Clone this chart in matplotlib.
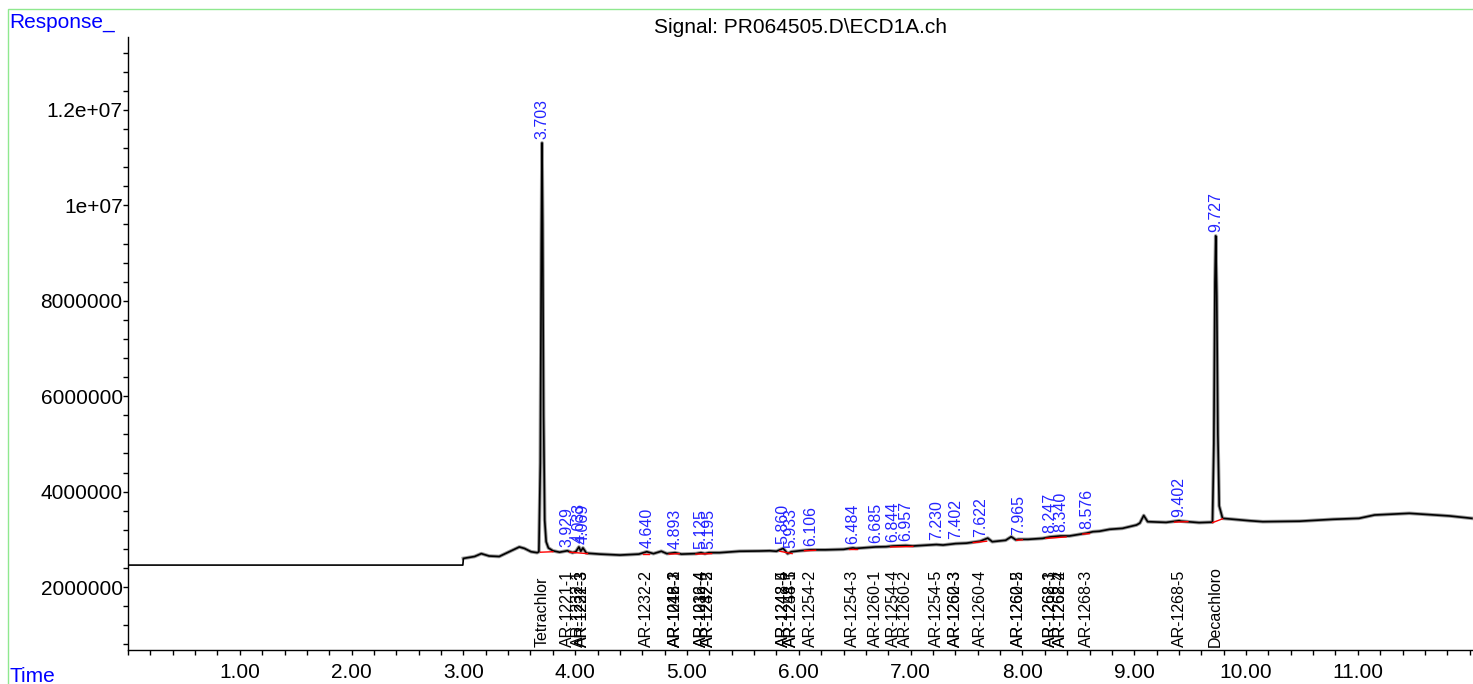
import numpy as np
import matplotlib
matplotlib.use("Agg")
import matplotlib.pyplot as plt
from matplotlib.ticker import FixedLocator, FixedFormatter, MultipleLocator
from matplotlib.patches import Rectangle

plt.rcParams['font.family'] = ['Liberation Sans', 'DejaVu Sans']

# ---- data ----
time_min = [0.0, 2.995, 3.0, 3.05, 3.10, 3.16, 3.23, 3.32, 3.41, 3.50, 3.545, 3.605, 3.66,
            3.675, 3.688, 3.697, 3.703, 3.709, 3.717, 3.727, 3.74, 3.76, 3.80, 3.86, 3.929,
            3.975, 4.005, 4.033, 4.05, 4.069, 4.10, 4.22, 4.40, 4.57, 4.64, 4.70, 4.77, 4.82,
            4.893, 4.95, 5.08, 5.125, 5.16, 5.195, 5.29, 5.47, 5.65, 5.74, 5.80, 5.86, 5.90,
            5.933, 6.01, 6.106, 6.24, 6.40, 6.484, 6.51, 6.685, 6.78, 6.844, 6.957, 7.02,
            7.230, 7.29, 7.402, 7.50, 7.622, 7.69, 7.73, 7.85, 7.90, 7.94, 7.965, 8.05, 8.18,
            8.247, 8.340, 8.42, 8.576, 8.63, 8.69, 8.78, 8.895, 9.02, 9.05, 9.085, 9.12,
            9.285, 9.402, 9.42, 9.58, 9.70, 9.712, 9.722, 9.729, 9.738, 9.748, 9.76, 9.79,
            10.03, 10.15, 10.48, 10.78, 11.01, 11.15, 11.46, 11.82, 12.02]
response = [2.46e6, 2.46e6, 2.60e6, 2.62e6, 2.64e6, 2.70e6, 2.65e6, 2.64e6, 2.74e6, 2.84e6,
            2.81e6, 2.74e6, 2.72e6, 2.74e6, 4.6e6, 9.2e6, 11.31e6, 9.6e6, 5.6e6, 3.4e6,
            2.95e6, 2.82e6, 2.76e6, 2.73e6, 2.76e6, 2.72e6, 2.74e6, 2.84e6, 2.75e6, 2.82e6,
            2.71e6, 2.69e6, 2.67e6, 2.69e6, 2.74e6, 2.70e6, 2.75e6, 2.70e6, 2.72e6, 2.69e6,
            2.70e6, 2.72e6, 2.70e6, 2.72e6, 2.72e6, 2.75e6, 2.755e6, 2.76e6, 2.75e6, 2.81e6,
            2.70e6, 2.74e6, 2.76e6, 2.78e6, 2.78e6, 2.79e6, 2.82e6, 2.81e6, 2.84e6, 2.845e6,
            2.86e6, 2.87e6, 2.86e6, 2.89e6, 2.88e6, 2.91e6, 2.92e6, 2.96e6, 3.025e6, 2.95e6,
            2.98e6, 3.055e6, 2.99e6, 3.00e6, 3.00e6, 3.02e6, 3.05e6, 3.07e6, 3.07e6, 3.13e6,
            3.16e6, 3.17e6, 3.21e6, 3.23e6, 3.30e6, 3.34e6, 3.50e6, 3.37e6, 3.355e6, 3.39e6,
            3.38e6, 3.35e6, 3.36e6, 5.0e6, 8.4e6, 9.36e6, 8.1e6, 5.2e6, 3.7e6, 3.44e6,
            3.39e6, 3.37e6, 3.38e6, 3.42e6, 3.44e6, 3.51e6, 3.545e6, 3.49e6, 3.44e6]

peak_rt = [3.703, 3.929, 4.033, 4.069, 4.640, 4.893, 5.125, 5.195, 5.860, 5.933, 6.106,
           6.484, 6.685, 6.844, 6.957, 7.230, 7.402, 7.622, 7.965, 8.247, 8.340, 8.576,
           9.402, 9.727]

compound_rt = [3.703, 3.929, 4.033, 4.069, 4.069, 4.640, 4.893, 4.893, 4.893, 5.125, 5.125,
               5.195, 5.195, 5.860, 5.860, 5.933, 5.933, 6.106, 6.484, 6.685, 6.844, 6.957,
               7.230, 7.402, 7.402, 7.622, 7.965, 7.965, 8.247, 8.247, 8.340, 8.340, 8.576,
               9.402, 9.727]
compound_names = ["Tetrachlor", "AR-1221-1", "AR-1232-1", "AR-1221-3", "AR-1232-3",
                  "AR-1232-2", "AR-1016-2", "AR-1242-1", "AR-1248-3", "AR-1016-4", "AR-1232-4",
                  "AR-1242-2", "AR-1232-5", "AR-1248-4", "AR-1242-5", "AR-1248-5", "AR-1254-1",
                  "AR-1254-2", "AR-1254-3", "AR-1260-1", "AR-1254-4", "AR-1260-2",
                  "AR-1254-5", "AR-1260-3", "AR-1262-3", "AR-1260-4", "AR-1260-5", "AR-1262-2",
                  "AR-1268-1", "AR-1262-3", "AR-1268-2", "AR-1262-4", "AR-1268-3",
                  "AR-1268-5", "Decachloro"]

# integration baselines (red)
baseline_t0 = [3.69, 3.95, 4.61, 4.84, 5.08, 5.83, 6.05, 6.45, 6.82, 7.56, 7.95, 8.21, 8.54, 9.36, 9.70]
baseline_t1 = [3.80, 4.11, 4.66, 4.93, 5.22, 5.94, 6.15, 6.52, 7.02, 7.68, 8.00, 8.39, 8.60, 9.48, 9.79]
baseline_y0 = [2.73e6, 2.73e6, 2.70e6, 2.69e6, 2.69e6, 2.75e6, 2.76e6, 2.80e6, 2.84e6, 2.93e6,
               2.98e6, 3.02e6, 3.11e6, 3.36e6, 3.35e6]
baseline_y1 = [2.74e6, 2.70e6, 2.70e6, 2.70e6, 2.70e6, 2.70e6, 2.77e6, 2.80e6, 2.85e6, 2.96e6,
               2.99e6, 3.05e6, 3.12e6, 3.37e6, 3.43e6]

x_major = [1, 2, 3, 4, 5, 6, 7, 8, 9, 10, 11]
x_labels = ["1.00", "2.00", "3.00", "4.00", "5.00", "6.00", "7.00", "8.00", "9.00", "10.00", "11.00"]
y_major = [2e6, 4e6, 6e6, 8e6, 1e7, 1.2e7]
y_labels = ["2000000", "4000000", "6000000", "8000000", "1e+07", "1.2e+07"]

# ---- figure ----
W, H = 1473, 684
fig = plt.figure(figsize=(W / 100, H / 100), dpi=100)
ax = fig.add_axes([128 / W, (H - 650) / H, (W - 128) / W, (650 - 37) / H])

t = np.array(time_min)
r = np.array(response)
mask = t >= 3.0
ax.plot(t[mask], r[mask], color='#9a9a9a', lw=2.6, zorder=2)
ax.plot(t, r, color='black', lw=1.2, zorder=3)

for t0, t1, y0, y1 in zip(baseline_t0, baseline_t1, baseline_y0, baseline_y1):
    ax.plot([t0, t1], [y0, y1], color='red', lw=1.0, zorder=4)

blue = '#2424ff'
for rt in peak_rt:
    sel = (t >= rt - 0.012) & (t <= rt + 0.012)
    yv = max(np.interp(rt, t, r), r[sel].max() if sel.any() else 0)
    ax.annotate(f"{rt:.3f}", xy=(rt, yv), xytext=(0, 3), textcoords='offset points',
                rotation=90, ha='center', va='bottom', fontsize=11.5, color=blue, zorder=5)

for rt, name in zip(compound_rt, compound_names):
    ax.annotate(name, xy=(rt, 0), xycoords=('data', 'axes fraction'), xytext=(0, 2),
                textcoords='offset points', rotation=90, ha='center', va='bottom',
                fontsize=11.5, color='black', zorder=5)

ax.set_xlim(0, 12.03)
ax.set_ylim(0.68e6, 13.53e6)
ax.xaxis.set_major_locator(FixedLocator(x_major))
ax.xaxis.set_major_formatter(FixedFormatter(x_labels))
ax.xaxis.set_minor_locator(MultipleLocator(0.2))
ax.yaxis.set_major_locator(FixedLocator(y_major))
ax.yaxis.set_major_formatter(FixedFormatter(y_labels))
ax.yaxis.set_minor_locator(MultipleLocator(4e5))
ax.tick_params(axis='both', which='both', direction='out', length=3.3, width=1, labelsize=15)
ax.tick_params(axis='x', which='both', pad=6)
ax.tick_params(axis='y', which='both', pad=0.5)
for sp in ['top', 'right']:
    ax.spines[sp].set_visible(False)
ax.spines['left'].set_linewidth(1)
ax.spines['bottom'].set_linewidth(1)

ax.set_title("Signal: PR064505.D\\ECD1A.ch", fontsize=15, pad=3)
fig.text(9 / W, 1 - 28 / H, "Response_", color='#0000ff', fontsize=15, ha='left', va='baseline')
fig.text(9 / W, 2 / H, "Time", color='#0000ff', fontsize=15, ha='left', va='baseline')

fig.patches.append(Rectangle((8 / W, -0.1), 1.2, (H - 9.5) / H + 0.1, transform=fig.transFigure,
                             fill=False, edgecolor='#8fe88f', lw=1))

fig.savefig("out.png", dpi=100)
